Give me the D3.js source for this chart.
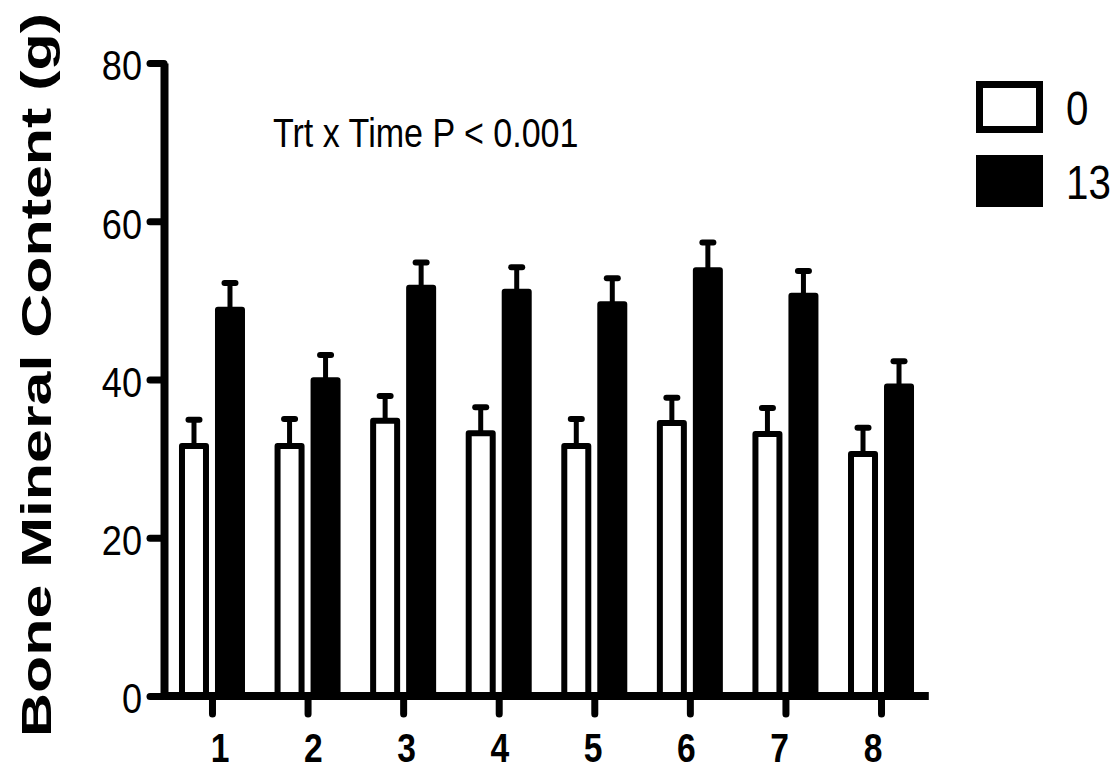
<!DOCTYPE html>
<html>
<head>
<meta charset="utf-8">
<script src="https://cdn.jsdelivr.net/npm/d3@7"></script>
<style>
  html, body { margin: 0; padding: 0; background: #fff; }
  svg { display: block; }
  text { font-family: "Liberation Sans", Arial, sans-serif; }
</style>
</head>
<body>
<svg id="chart" width="1120" height="771"></svg>
<script>
// ---- Data ----
const categories = ["1", "2", "3", "4", "5", "6", "7", "8"];
const seriesNames = ["0", "13"];
const means0  = [31.6, 31.6, 34.8, 33.2, 31.6, 34.5, 33.1, 30.6];
const sem0    = [3.3, 3.4, 3.1, 3.3, 3.4, 3.2, 3.3, 3.3];
const means13 = [48.8, 39.9, 51.6, 51.1, 49.5, 53.8, 50.6, 39.1];
const sem13   = [3.4, 3.2, 3.2, 3.1, 3.3, 3.5, 3.1, 3.2];
const yTicks  = [0, 20, 40, 60, 80];
const yLabel  = "Bone Mineral Content (g)";
const annotation = "Trt x Time P < 0.001";

const data = categories.map((c, i) => ({
  cat: c,
  values: [
    { series: seriesNames[0], mean: means0[i], sem: sem0[i] },
    { series: seriesNames[1], mean: means13[i], sem: sem13[i] }
  ]
}));

// condense text horizontally (narrow look)
function narrow(sel, k = 0.82) {
  sel.each(function () {
    const w = this.getComputedTextLength();
    d3.select(this).attr("textLength", w * k).attr("lengthAdjust", "spacingAndGlyphs");
  });
}

const svg = d3.select("#chart");

// ---- Scales ----
const y = d3.scaleLinear().domain([0, 80]).range([696, 63]);
const x0 = d3.scaleBand().domain(categories).range([164.2, 928.8]).padding(0);
const x1 = d3.scaleBand().domain(seriesNames)
  .range([x0.bandwidth() / 2 - 30, x0.bandwidth() / 2 + 30])
  .paddingInner(1 / 3).paddingOuter(0);
const xLabel = d3.scalePoint().domain(categories).range([220, 873]);
const fill = d3.scaleOrdinal().domain(seriesNames).range(["#fff", "#000"]);

// ---- Bars ----
const groups = svg.append("g").selectAll("g").data(data).join("g")
  .attr("transform", d => `translate(${x0(d.cat)},0)`);

groups.selectAll("line.err").data(d => d.values).join("line")
  .attr("class", "err")
  .attr("x1", d => x1(d.series) + x1.bandwidth() / 2)
  .attr("x2", d => x1(d.series) + x1.bandwidth() / 2)
  .attr("y1", d => y(d.mean))
  .attr("y2", d => y(d.mean + d.sem))
  .attr("stroke", "#000").attr("stroke-width", 5);
groups.selectAll("line.cap").data(d => d.values).join("line")
  .attr("class", "cap")
  .attr("x1", d => x1(d.series) + x1.bandwidth() / 2 - 5.5)
  .attr("x2", d => x1(d.series) + x1.bandwidth() / 2 + 5.5)
  .attr("y1", d => y(d.mean + d.sem))
  .attr("y2", d => y(d.mean + d.sem))
  .attr("stroke", "#000").attr("stroke-width", 6).attr("stroke-linecap", "round");

groups.selectAll("rect").data(d => d.values).join("rect")
  .attr("x", d => x1(d.series))
  .attr("width", x1.bandwidth())
  .attr("y", d => y(d.mean))
  .attr("height", d => y(0) - y(d.mean))
  .attr("fill", d => fill(d.series))
  .attr("stroke", "#000").attr("stroke-width", 6).attr("stroke-linejoin", "round");

// ---- Axes ----
const yAxis = svg.append("g").attr("transform", "translate(164,0)")
  .call(d3.axisLeft(y).tickValues(yTicks).tickSize(14).tickSizeOuter(0).tickPadding(8));
yAxis.select(".domain").attr("stroke-width", 8);
yAxis.selectAll(".tick line").attr("stroke-width", 7).attr("stroke-linecap", "round");
yAxis.selectAll(".tick text")
  .attr("font-family", "'Liberation Sans', Arial, sans-serif")
  .attr("font-size", 42).attr("fill", "#000").attr("dy", "0.40em")
  .call(narrow, 0.86);

const xAxis = svg.append("g").attr("transform", "translate(0,696)")
  .call(d3.axisBottom(d3.scalePoint().domain(categories)
      .range([x0(categories[0]) + x0.bandwidth() / 2, x0(categories[categories.length - 1]) + x0.bandwidth() / 2]))
    .tickSize(18).tickSizeOuter(0).tickFormat(""));
xAxis.select(".domain").remove();
xAxis.selectAll(".tick line").attr("stroke-width", 7).attr("stroke-linecap", "round");
xAxis.append("line")
  .attr("x1", x0.range()[0]).attr("x2", x0.range()[1])
  .attr("y1", 0).attr("y2", 0)
  .attr("stroke", "#000").attr("stroke-width", 8);

// x tick labels
svg.append("g").selectAll("text").data(categories).join("text")
  .attr("x", d => xLabel(d))
  .attr("y", 762)
  .attr("text-anchor", "middle")
  .attr("font-size", 40).attr("font-weight", "bold")
  .text(d => d)
  .call(narrow, 0.84);

// ---- Y label ----
svg.append("text")
  .attr("transform", "translate(51,375) rotate(-90)")
  .attr("text-anchor", "middle")
  .attr("font-weight", "bold")
  .attr("font-size", 42)
  .attr("textLength", 724)
  .attr("lengthAdjust", "spacingAndGlyphs")
  .text(yLabel);

// ---- Annotation ----
svg.append("text")
  .attr("x", 273).attr("y", 147)
  .attr("font-size", 41)
  .text(annotation)
  .call(narrow, 0.83);

// ---- Legend ----
const legend = svg.append("g").selectAll("g").data(seriesNames).join("g")
  .attr("transform", (d, i) => `translate(976,${81 + i * 74})`);
legend.append("rect")
  .attr("x", 3.5).attr("y", 3.5).attr("width", 60).attr("height", 45)
  .attr("fill", d => fill(d)).attr("stroke", "#000").attr("stroke-width", 7);
legend.append("text")
  .attr("x", 90).attr("y", 44)
  .attr("font-size", 48)
  .text(d => d)
  .call(narrow, 0.84);
</script>
</body>
</html>
